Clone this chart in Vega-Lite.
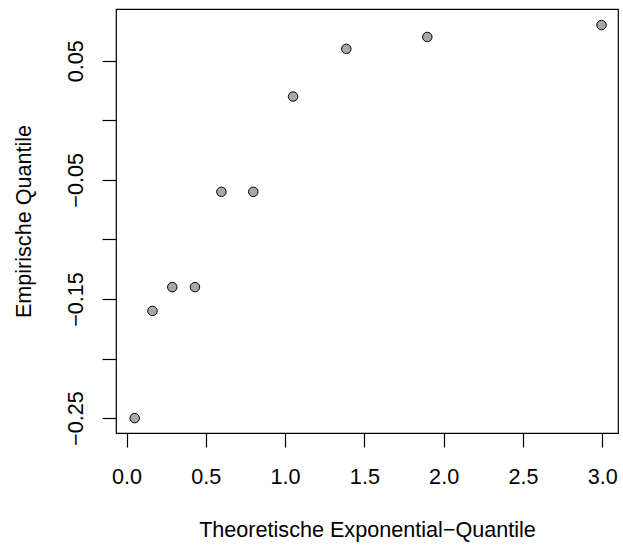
{
  "$schema": "https://vega.github.io/schema/vega-lite/v6.json",
  "width": 502,
  "height": 424,
  "autosize": {"type": "none"},
  "padding": {"left": 116, "top": 9, "right": 5, "bottom": 113},
  "background": "white",
  "config": {
    "view": {"stroke": "black", "strokeWidth": 1.2},
    "font": "Liberation Sans"
  },
  "data": {
    "values": [
      {"theo": 0.051, "emp": -0.25},
      {"theo": 0.163, "emp": -0.16},
      {"theo": 0.288, "emp": -0.14},
      {"theo": 0.431, "emp": -0.14},
      {"theo": 0.598, "emp": -0.06},
      {"theo": 0.799, "emp": -0.06},
      {"theo": 1.050, "emp": 0.02},
      {"theo": 1.386, "emp": 0.06},
      {"theo": 1.897, "emp": 0.07},
      {"theo": 2.996, "emp": 0.08}
    ]
  },
  "mark": {"type": "point", "shape": "circle", "filled": true, "fill": "#a8a8a8", "stroke": "black", "strokeWidth": 1, "size": 90, "opacity": 1},
  "encoding": {
    "x": {
      "field": "theo", "type": "quantitative",
      "scale": {"domain": [-0.067, 3.1], "nice": false, "zero": false},
      "axis": {
        "title": "Theoretische Exponential−Quantile",
        "values": [0, 0.5, 1, 1.5, 2, 2.5, 3],
        "format": ".1f",
        "grid": false, "domain": false,
        "tickSize": 14, "tickColor": "black", "tickWidth": 1.2,
        "labelFontSize": 21.6, "labelColor": "black", "labelFont": "Liberation Sans",
        "labelPadding": 19, "labelBaseline": "top",
        "titleFontSize": 21.6, "titleFontWeight": "normal", "titleColor": "black", "titleFont": "Liberation Sans",
        "titleBaseline": "alphabetic", "titleX": 251, "titleY": 103.5, "titleAnchor": "middle", "titleAlign": "center"
      }
    },
    "y": {
      "field": "emp", "type": "quantitative",
      "scale": {"domain": [-0.2625, 0.0935], "nice": false, "zero": false},
      "axis": {
        "title": "Empirische Quantile",
        "values": [-0.25, -0.2, -0.15, -0.1, -0.05, 0, 0.05],
        "labelExpr": "abs(round(datum.value*100)) % 10 == 5 ? replace(format(datum.value, '.2f'), '-', '−') : ''",
        "grid": false, "domain": false,
        "tickSize": 14, "tickColor": "black", "tickWidth": 1.2,
        "labelAngle": -90, "labelAlign": "center", "labelBaseline": "alphabetic",
        "labelFontSize": 21.6, "labelColor": "black", "labelFont": "Liberation Sans",
        "labelPadding": 20,
        "titleFontSize": 21.6, "titleFontWeight": "normal", "titleColor": "black", "titleFont": "Liberation Sans",
        "titleAngle": -90, "titleBaseline": "alphabetic", "titleAlign": "center",
        "titleX": -86, "titleY": 212
      }
    }
  }
}
